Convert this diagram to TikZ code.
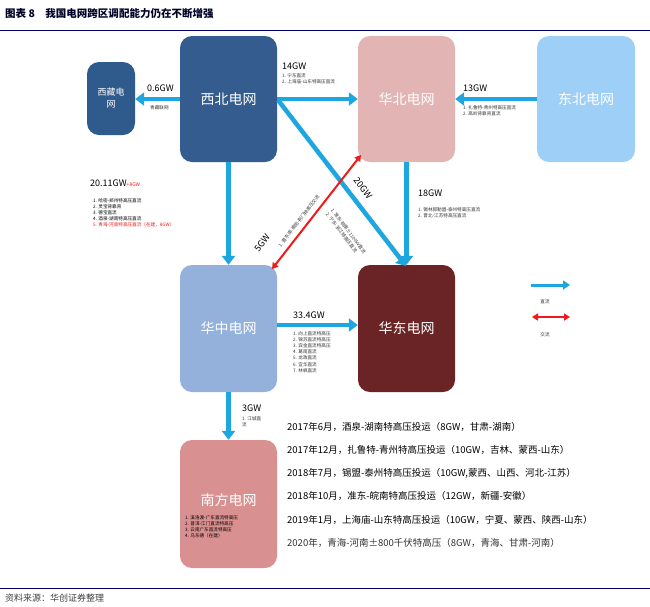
\documentclass[tikz,border=0pt]{standalone}
\usepackage{fontspec}
\setmainfont{Noto Sans CJK SC}
\usetikzlibrary{arrows.meta}
\definecolor{dc}{HTML}{1EA6E0}
\definecolor{ac}{HTML}{F01A1A}
\tikzset{
 grid/.style={draw=none,rounded corners=12pt,text=white,font=\fontsize{14}{16}\selectfont,inner sep=0pt},
 dcarrow/.style={draw=dc,line width=4.5pt,-{Triangle[length=9pt,width=13pt]}},
 acarrow/.style={draw=ac,line width=2pt,{Triangle[length=6pt,width=7pt]}-{Triangle[length=6pt,width=7pt]}},
 big/.style={font=\fontsize{9}{10}\selectfont,inner sep=0pt},
 small/.style={font=\fontsize{4.6}{6.2}\selectfont,inner sep=0pt,align=left,text=black!80},
 tl/.style={font=\fontsize{9.5}{11}\selectfont,anchor=west,inner sep=0pt}
}
\begin{document}
\begin{tikzpicture}[x=1pt,y=-1pt]
\useasboundingbox (0,0) rectangle (650,606);
\fill[white] (0,0) rectangle (650,606);
\node[anchor=west,inner sep=0pt,text=black!85!blue,font=\fontsize{10.5}{12}\selectfont\bfseries] (title) at (5,14) {图表 8\quad 我国电网跨区调配能力仍在不断增强};
\draw[draw=black!60!blue,line width=1pt] (0,30) -- (650,30);
\draw[draw=black!60!blue,line width=0.8pt] (0,588) -- (650,588);
\node[anchor=west,inner sep=0pt,font=\fontsize{9}{10}\selectfont\itshape,text=black!75] (src) at (5,598) {资料来源：华创证券整理};
% boxes
\node[grid,fill={rgb,255:red,47;green,90;blue,140},minimum width=48pt,minimum height=73pt,align=center,font=\fontsize{9}{12}\selectfont] (xz) at (111,98.5) {西藏电\\网};
\node[grid,fill={rgb,255:red,52;green,92;blue,142},minimum width=97pt,minimum height=126pt] (xb) at (228.5,99) {西北电网};
\node[grid,fill={rgb,255:red,226;green,180;blue,180},minimum width=97pt,minimum height=126pt] (hb) at (406.5,99) {华北电网};
\node[grid,fill={rgb,255:red,158;green,207;blue,247},minimum width=98pt,minimum height=126pt] (db) at (586,99) {东北电网};
\node[grid,fill={rgb,255:red,147;green,177;blue,219},minimum width=97pt,minimum height=127pt] (hz) at (228.5,328.5) {华中电网};
\node[grid,fill={rgb,255:red,107;green,36;blue,38},minimum width=97pt,minimum height=127pt] (hd) at (406.5,328.5) {华东电网};
\node[grid,fill={rgb,255:red,217;green,144;blue,144},minimum width=97pt,minimum height=128pt] (nf) at (228.5,504) {};
\node[inner sep=0pt,text=white,font=\fontsize{14}{16}\selectfont] (nft) at (228.5,500) {南方电网};
\node[small,anchor=north west,text=black] (nfl) at (185,515) {1. 溪洛渡-广东直流特高压\\2. 普洱-江门直流特高压\\3. 云南广东直流特高压\\4. 乌东德（在建）};
% arrows
\draw[dcarrow] (xb.west |- 0,99) -- (xz.east |- 0,99);
\draw[dcarrow] (xb.east |- 0,99) -- (hb.west |- 0,99);
\draw[dcarrow] (db.west |- 0,99) -- (hb.east |- 0,99);
\draw[dcarrow] (278,100) -- (406,266);
\draw[dcarrow] (hb.south) -- (hd.north);
\draw[dcarrow] (xb.south) -- (hz.north);
\draw[dcarrow] (hz.east |- 0,325) -- (hd.west |- 0,325);
\draw[dcarrow] (hz.south) -- (nf.north);
\draw[acarrow] (272,269) -- (361,155);
% labels
\node[big,anchor=west] (l06) at (147,88) {0.6GW};
\node[small,anchor=west] (l06b) at (150,108) {青藏联网};
\node[big,anchor=west] (l14) at (282,66) {14GW};
\node[small,anchor=north west] (l14b) at (282,73) {1. 宁东直流\\2. 上海庙-山东特高压直流};
\node[big,anchor=west] (l13) at (463,88) {13GW};
\node[small,anchor=north west] (l13b) at (463,105) {1. 扎鲁特-青州特高压直流\\2. 高岭背靠背直流};
\node[big,anchor=west] (l18) at (418,193) {18GW};
\node[small,anchor=north west] (l18b) at (418,207) {1. 锡林郭勒盟-泰州特高压直流\\2. 晋北-江苏特高压直流};
\node[big,anchor=west] (l20) at (90,183) {20.11GW\textcolor{ac}{\fontsize{5}{6}\selectfont\itshape +8GW}};
\node[small,anchor=north west,text=black] (l20b) at (93,198) {1. 哈密-郑州特高压直流\\2. 灵宝背靠背\\3. 德宝直流\\4. 酒泉-湖南特高压直流\\\textcolor{ac}{\itshape 5. 青海-河南特高压直流（在建，8GW）}};
\node[big,anchor=west] (l334) at (293,315) {33.4GW};
\node[small,anchor=north west] (l334b) at (293,331) {1. 向上直流特高压\\2. 锦苏直流特高压\\3. 宾金直流特高压\\4. 葛南直流\\5. 龙政直流\\6. 宜华直流\\7. 林枫直流};
\node[big,anchor=west] (l3) at (242,408) {3GW};
\node[small,anchor=north west] (l3b) at (242,416) {1. 江城直\\流};
\node[big,rotate=-52.9] (l20g) at (363,188) {20GW};
\node[small,rotate=-52.9] (l20gb) at (346,233) {1. 准东-皖南±1100kV直流\\2. 宁东-浙江特高压直流};
\node[big,rotate=52.4] (l5) at (262,243) {5GW};
\node[small,rotate=52.4] (l5b) at (299,221) {1. 晋东南-南阳-荆门特高压交流};
% timeline
\node[tl] (t1) at (287,427) {2017年6月，酒泉-湖南特高压投运（8GW，甘肃-湖南）};
\node[tl] (t2) at (287,450) {2017年12月，扎鲁特-青州特高压投运（10GW，吉林、蒙西-山东）};
\node[tl] (t3) at (287,473) {2018年7月，锡盟-泰州特高压投运（10GW,蒙西、山西、河北-江苏）};
\node[tl] (t4) at (287,496) {2018年10月，准东-皖南特高压投运（12GW，新疆-安徽）};
\node[tl] (t5) at (287,520) {2019年1月，上海庙-山东特高压投运（10GW，宁夏、蒙西、陕西-山东）};
\node[tl,font=\fontsize{9.5}{11}\selectfont\itshape,text=black!80] (t6) at (287,543) {2020年，青海-河南±800千伏特高压（8GW，青海、甘肃-河南）};
% legend
\coordinate (la1) at (531,285); \coordinate (la2) at (570,285);
\draw[draw=dc,line width=3pt,-{Triangle[length=7pt,width=9pt]}] (la1) -- (la2);
\node[small] (lg1) at (545,302) {直流};
\coordinate (lb1) at (532,317); \coordinate (lb2) at (570,317);
\draw[acarrow] (lb1) -- (lb2);
\node[small] (lg2) at (545,335) {交流};
\end{tikzpicture}
\end{document}
